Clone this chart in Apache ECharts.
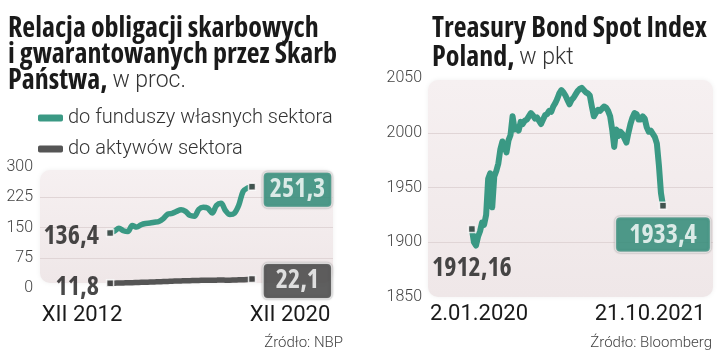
<!DOCTYPE html>
<html><head><meta charset="utf-8">
<script src="https://cdn.jsdelivr.net/npm/echarts@6/dist/echarts.min.js"></script>
<style>html,body{margin:0;padding:0;background:#fff}#c{width:720px;height:364px}</style>
</head><body><div id="c"></div>
<script>
// ---- left chart data: quarterly, XII 2012 .. XII 2020 (w proc.) ----
const seriesNames = ['do funduszy własnych sektora', 'do aktywów sektora'];
const leftEquityRatio = [136.4, 141, 148, 142, 140, 155, 151, 157, 160, 161, 163, 165, 172, 183, 185, 190, 194,
  190, 180, 178, 195, 200, 198, 186, 205, 210, 192, 182, 185, 205, 240, 248, 251.3];
const leftAssetRatio = [11.8, 12.0, 12.3, 12.6, 13.0, 13.2, 13.6, 14.0, 14.3, 14.6, 15.0, 15.5, 16.0, 16.4, 16.9, 17.2,
  17.6, 18.0, 18.2, 18.5, 18.8, 19.1, 19.3, 19.0, 19.5, 19.8, 19.5, 19.3, 19.8, 20.2, 20.5, 21.0, 22.1];
const leftYTicks = [0, 75, 150, 225, 300];
const leftXLabels = ['XII 2012', 'XII 2020'];
// ---- right chart data: weekly, 2.01.2020 .. 21.10.2021 (w pkt) ----
const rightIndex = [1912.16, 1900, 1897, 1905, 1910, 1918, 1916, 1925, 1958, 1963, 1932, 1960, 1965, 1972, 1985,
  1992, 1988, 1982, 1993, 1998, 2015, 2003, 2005, 2002, 2010, 2008, 2011, 2012, 2015, 2018, 2016, 2013, 2014,
  2011, 2008, 2012, 2016, 2017, 2020, 2019, 2024, 2027, 2031, 2036, 2039, 2037, 2034, 2030, 2026, 2030, 2032,
  2035, 2038, 2040, 2041, 2039, 2037, 2036, 2034, 2024, 2015, 2018, 2021, 2020, 2022, 2024, 2023, 2020, 2015,
  2003, 1987, 2003, 1997, 2001, 1999, 1995, 1991, 2000, 2008, 2014, 2018, 2017, 2012, 2012, 2015, 2013, 2005,
  2001, 2002, 1999, 1996, 1990, 1970, 1945, 1933.4];
const rightYTicks = [1850, 1900, 1950, 2000, 2050];
const rightXLabels = ['2.01.2020', '21.10.2021'];
const sources = ['Źródło: NBP', 'Źródło: Bloomberg'];

const GREEN = '#3a9984', GREY = '#555555', BOXGREY = '#4d4d4d';
const COND = "'Open Sans'";
const BOLDC = 'bold condensed';
const LIGHT = "Roboto";
const NUMSIZE = 26;
const fmt = v => String(v).replace('.', ',');
const pairs = arr => arr.map((v, i) => [i, v]);

const plainLabel = (pos, dist, off) => ({
  show: true, position: pos, distance: dist, offset: off,
  formatter: p => fmt(p.value[1]),
  fontFamily: COND, fontWeight: BOLDC, fontSize: NUMSIZE, color: '#1a1a1a', lineHeight: 28
});
const boxLabel = (pos, dist, off, bg, padH) => ({
  show: true, position: pos, distance: dist, offset: off,
  formatter: p => fmt(p.value[1]),
  fontFamily: COND, fontWeight: BOLDC, fontSize: NUMSIZE, color: '#fff', lineHeight: 28,
  backgroundColor: bg, borderRadius: 4, padding: [4, padH, 2, padH],
  borderColor: '#ffffff', borderWidth: 1.5,
  shadowColor: 'rgba(0,0,0,0.45)', shadowBlur: 2
});
const endItem = (arr, idx, label) => ({ value: [idx, arr[idx]], label });
const markerStyle = { color: '#444', borderColor: '#fff', borderWidth: 1.5 };

const bgRect = (x, y, w, h) => ({
  type: 'rect', z: -10, silent: true,
  shape: { x, y, width: w, height: h, r: 10 },
  style: {
    fill: new echarts.graphic.LinearGradient(0, 0, 0, 1, [
      { offset: 0, color: '#f6f0f1' }, { offset: 1, color: '#efe7e8' }]),
    shadowColor: 'rgba(0,0,0,0.06)', shadowBlur: 4
  }
});
const txt = (x, y, text, align, size, weight, color, font) => ({
  type: 'text', x, y, silent: true,
  style: { text, align, verticalAlign: 'middle', fontSize: size, fontWeight: weight, fill: color, fontFamily: font || LIGHT }
});

const yAxisBase = (grid, ticks, margin) => ({
  gridIndex: grid, type: 'value', min: ticks[0], max: ticks[ticks.length - 1],
  interval: ticks[1] - ticks[0],
  axisLine: { show: false }, axisTick: { show: false },
  axisLabel: { margin, fontSize: 16, color: '#444', fontFamily: LIGHT, fontWeight: 300, formatter: v => String(v) },
  splitLine: { show: true, showMinLine: false, showMaxLine: false, lineStyle: { color: '#e0d5d6', width: 1 } }
});

const chart = echarts.init(document.getElementById('c'), null, { renderer: 'canvas' });
const lastL = leftEquityRatio.length - 1, lastR = rightIndex.length - 1;
chart.setOption({
  animation: false,
  backgroundColor: '#fff',
  title: [
    { left: 3, top: 11, text: '{b|Relacja obligacji skarbowych}\n{b|i gwarantowanych przez Skarb}\n{b|Państwa,} {l|w proc.}',
      textStyle: { rich: {
        b: { fontFamily: COND, fontWeight: BOLDC, fontSize: 28, color: '#1a1a1a', lineHeight: 26 },
        l: { fontFamily: LIGHT, fontWeight: 300, fontSize: 23, color: '#333', lineHeight: 26 } } } },
    { left: 427, top: 10, text: '{b|Treasury Bond Spot Index}\n{b|Poland,} {l|w pkt}',
      textStyle: { rich: {
        b: { fontFamily: COND, fontWeight: BOLDC, fontSize: 28, color: '#1a1a1a', lineHeight: 29 },
        l: { fontFamily: LIGHT, fontWeight: 300, fontSize: 23, color: '#333', lineHeight: 29 } } } }
  ],
  legend: {
    data: seriesNames, orient: 'vertical', left: 33, top: 102, itemGap: 9,
    icon: 'roundRect', itemWidth: 25, itemHeight: 7, selectedMode: false,
    textStyle: { fontSize: 20, fontFamily: LIGHT, fontWeight: 300, color: '#333', lineHeight: 22 }
  },
  grid: [
    { left: 40, right: 387, top: 167, bottom: 76 },
    { left: 428, right: 7, top: 78, bottom: 67 }
  ],
  xAxis: [
    { gridIndex: 0, type: 'value', min: -15.8, max: 50.25, show: false },
    { gridIndex: 1, type: 'value', min: -21.6, max: 118.6, show: false }
  ],
  yAxis: [yAxisBase(0, leftYTicks, 7), yAxisBase(1, rightYTicks, 6)],
  graphic: [
    bgRect(40, 170, 293, 113),
    bgRect(428, 80, 285, 217),
    txt(82, 315, leftXLabels[0], 'center', 22, 400, '#1a1a1a'),
    txt(290, 315, leftXLabels[1], 'center', 22, 400, '#1a1a1a'),
    txt(479, 314, rightXLabels[0], 'center', 22, 400, '#1a1a1a'),
    txt(650, 314, rightXLabels[1], 'center', 22, 400, '#1a1a1a'),
    txt(343, 343, sources[0], 'right', 15, 300, '#444'),
    txt(712, 343, sources[1], 'right', 15, 300, '#444')
  ],
  series: [
    { name: seriesNames[0], type: 'line', xAxisIndex: 0, yAxisIndex: 0, data: pairs(leftEquityRatio),
      showSymbol: false, smooth: 0.35, color: GREEN, lineStyle: { width: 5.5, color: GREEN, cap: 'round', join: 'round' }, z: 3 },
    { name: seriesNames[1], type: 'line', xAxisIndex: 0, yAxisIndex: 0, data: pairs(leftAssetRatio),
      showSymbol: false, smooth: 0.35, color: GREY, lineStyle: { width: 5.5, color: GREY, cap: 'round', join: 'round' }, z: 3 },
    { name: 'ends-left', type: 'scatter', xAxisIndex: 0, yAxisIndex: 0, symbol: 'rect', symbolSize: 7,
      itemStyle: markerStyle, z: 5,
      data: [
        endItem(leftEquityRatio, 0, plainLabel('left', 7, [0, 4])),
        endItem(leftEquityRatio, lastL, boxLabel('right', 7.5, [0, 3], GREEN, 6)),
        endItem(leftAssetRatio, 0, plainLabel('left', 7, [0, 4])),
        endItem(leftAssetRatio, lastL, boxLabel('right', 7.5, [0, 2], BOXGREY, 12))
      ] },
    { name: 'Treasury Bond Spot Index Poland', type: 'line', xAxisIndex: 1, yAxisIndex: 1, data: pairs(rightIndex),
      showSymbol: false, color: GREEN, lineStyle: { width: 6, color: GREEN, cap: 'round', join: 'round' }, z: 3 },
    { name: 'ends-right', type: 'scatter', xAxisIndex: 1, yAxisIndex: 1, symbol: 'rect', symbolSize: 7,
      itemStyle: markerStyle, z: 5,
      data: [
        endItem(rightIndex, 0, plainLabel('bottom', 21, [0, 0])),
        endItem(rightIndex, lastR, boxLabel('bottom', 7.5, [0, 0], GREEN, 13))
      ] }
  ]
});
</script></body></html>
